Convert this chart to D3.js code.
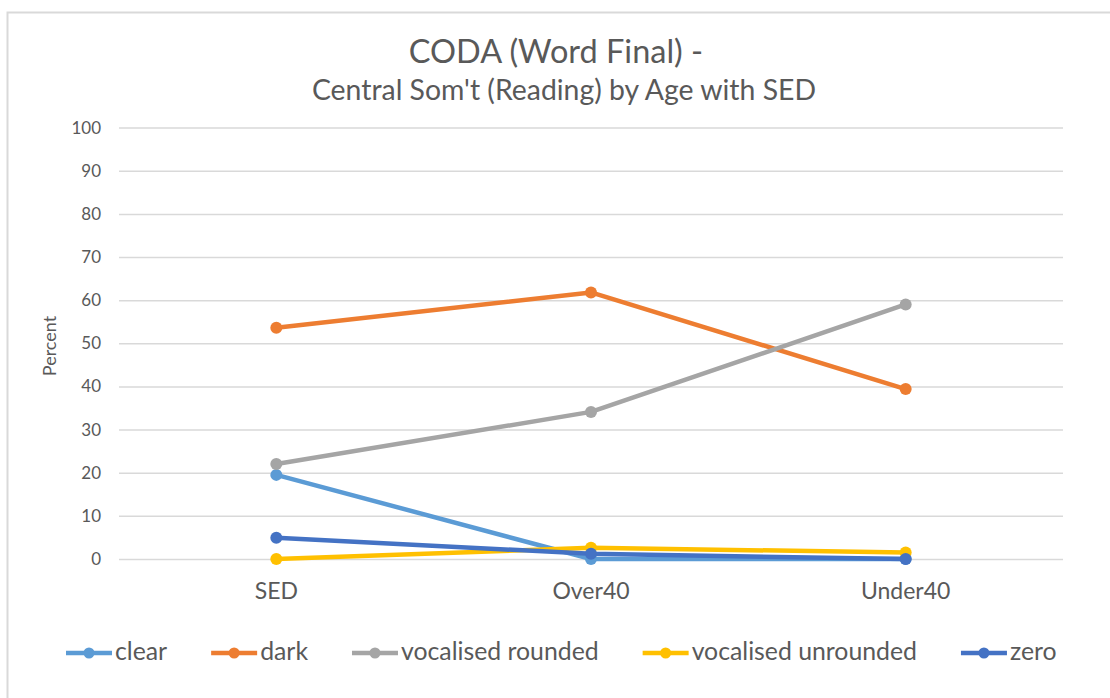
<!DOCTYPE html>
<html>
<head>
<meta charset="utf-8">
<script src="https://cdn.jsdelivr.net/npm/d3@7"></script>
<style>
  html, body { margin: 0; padding: 0; background: #fff; }
  svg { display: block; font-family: "Lato", "Open Sans", sans-serif; }
</style>
</head>
<body>
<svg id="chart" width="1110" height="698"></svg>
<script>
// Age groups on the x axis
const categories = ["SED", "Over40", "Under40"];

// Percent per variant, one value per age group
const clear = [19.5, 0, 0];
const dark = [53.6, 61.8, 39.4];
const vocalisedRounded = [22.0, 34.1, 59.0];
const vocalisedUnrounded = [0, 2.6, 1.5];
const zero = [4.9, 1.2, 0];

const seriesNames = ["clear", "dark", "vocalised rounded", "vocalised unrounded", "zero"];
const seriesValues = [clear, dark, vocalisedRounded, vocalisedUnrounded, zero];
const colors = ["#5B9BD5", "#ED7D31", "#A5A5A5", "#FFC000", "#4472C4"];

const yTicks = [0, 10, 20, 30, 40, 50, 60, 70, 80, 90, 100];

const svg = d3.select("#chart");
const textColor = "#595959";
const fontStack = "Lato, 'Open Sans', sans-serif";

// outer chart frame
svg.append("rect")
  .attr("x", 7.5).attr("y", 12.5)
  .attr("width", 1120).attr("height", 700)
  .attr("fill", "#fff")
  .attr("stroke", "#d9d9d9").attr("stroke-width", 2);

const x = d3.scaleBand().domain(categories).range([119, 1063]);
const y = d3.scaleLinear().domain([0, 100]).range([559, 127.6]);

// titles
svg.append("text")
  .attr("x", 556).attr("y", 63)
  .attr("text-anchor", "middle")
  .attr("font-size", 32.5).attr("fill", textColor)
  .text("CODA (Word Final) -");
svg.append("text")
  .attr("x", 564).attr("y", 100)
  .attr("text-anchor", "middle")
  .attr("font-size", 28.4).attr("fill", textColor)
  .text("Central Som't (Reading) by Age with SED");

// horizontal gridlines + y tick labels
const yAxis = d3.axisLeft(y).tickValues(yTicks).tickSize(-(1063 - 119)).tickPadding(18);
const gy = svg.append("g").attr("transform", "translate(119,0)").call(yAxis);
gy.select(".domain").remove();
gy.selectAll(".tick line").attr("stroke", "#d9d9d9").attr("stroke-width", 1.5);
gy.selectAll(".tick text")
  .attr("font-family", fontStack)
  .attr("font-size", 17).attr("fill", textColor);

// x axis labels
const xAxis = d3.axisBottom(x).tickSize(0).tickPadding(0);
const gx = svg.append("g").attr("transform", "translate(0,559)").call(xAxis);
gx.select(".domain").remove();
gx.selectAll(".tick text")
  .attr("font-family", fontStack)
  .attr("font-size", 23).attr("fill", textColor)
  .attr("dy", null).attr("y", 39.5);

// y axis title
svg.append("text")
  .attr("transform", "translate(56,346) rotate(-90)")
  .attr("text-anchor", "middle")
  .attr("font-size", 18).attr("fill", textColor)
  .text("Percent");

// series lines and markers
const cx = (d, i) => x(categories[i]) + x.bandwidth() / 2;
const line = d3.line().x(cx).y(d => y(d));

seriesValues.forEach((vals, si) => {
  const g = svg.append("g");
  g.append("path")
    .datum(vals)
    .attr("d", line)
    .attr("fill", "none")
    .attr("stroke", colors[si])
    .attr("stroke-width", 4.5)
    .attr("stroke-linejoin", "round")
    .attr("stroke-linecap", "round");
  g.selectAll("circle")
    .data(vals)
    .join("circle")
    .attr("cx", cx)
    .attr("cy", d => y(d))
    .attr("r", 6)
    .attr("fill", colors[si]);
});

// legend
const legend = svg.append("g");
let lx = 66;
const ly = 653;
seriesNames.forEach((name, si) => {
  const item = legend.append("g");
  item.append("line")
    .attr("x1", lx).attr("x2", lx + 46)
    .attr("y1", ly).attr("y2", ly)
    .attr("stroke", colors[si]).attr("stroke-width", 4.5);
  item.append("circle")
    .attr("cx", lx + 23).attr("cy", ly).attr("r", 5.5)
    .attr("fill", colors[si]);
  const t = item.append("text")
    .attr("x", lx + 49).attr("y", 659.5)
    .attr("font-size", 24.8).attr("fill", textColor)
    .text(name);
  lx += 49 + t.node().getComputedTextLength() + 44;
});
</script>
</body>
</html>
